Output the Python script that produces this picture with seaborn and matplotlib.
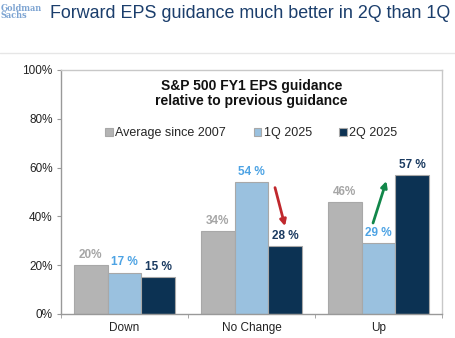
import matplotlib
matplotlib.use("Agg")
import matplotlib.pyplot as plt
import seaborn as sns
import pandas as pd
import numpy as np

categories = ["Down", "No Change", "Up"]
series = ["Average since 2007", "1Q 2025", "2Q 2025"]
avg_2007 = [20, 34, 46]
q1_2025 = [17, 54, 29]
q2_2025 = [15, 28, 57]
yticks = [0, 20, 40, 60, 80, 100]

colors = ["#B4B4B4", "#8EC3EA", "#00335F"]
label_colors = ["#A6A6A6", "#4DA3E4", "#1A3A60"]

rows = []
for name, vals in zip(series, [avg_2007, q1_2025, q2_2025]):
    for c, v in zip(categories, vals):
        rows.append({"Category": c, "Series": name, "Value": v})
df = pd.DataFrame(rows)

sns.set_style("white")
plt.rcParams["font.family"] = ["Liberation Sans", "DejaVu Sans"]

fig = plt.figure(figsize=(4.56, 3.38), dpi=100)
ax = fig.add_axes([61/456, 24/338, 381/456, 244/338])

sns.barplot(data=df, x="Category", y="Value", hue="Series", order=categories,
            hue_order=series, palette=colors, ax=ax, width=0.8,
            edgecolor="#A8A8A8", linewidth=0.8, legend=True)

ax.set_ylim(0, 100)
ax.set_xlim(-0.5, 2.5)
ax.set_yticks(yticks)
ax.set_yticklabels([f"{t}%" for t in yticks], fontsize=8.5, color="#222222")
ax.set_xticks([0, 1, 2])
ax.set_xticklabels(categories, fontsize=8.5, color="#222222")
ax.tick_params(axis="x", length=0, pad=6)
ax.tick_params(axis="y", length=3, color="#999999", pad=3, left=True)
ax.set_xticks([-0.5, 0.5, 1.5, 2.5], minor=True)
ax.tick_params(axis="x", which="minor", length=3, color="#999999", bottom=True)
ax.set_xlabel("")
ax.set_ylabel("")
for s in ["left", "bottom"]:
    ax.spines[s].set_color("#999999")
    ax.spines[s].set_linewidth(1.0)
for s in ["top", "right"]:
    ax.spines[s].set_color("#C8C8C8")
    ax.spines[s].set_linewidth(1.0)
    ax.spines[s].set_visible(True)

# bar labels
for i, cont in enumerate(ax.containers):
    if i == 0:
        labels = [f"{v}%" for v in avg_2007]
    elif i == 1:
        labels = [f"{v} %" for v in q1_2025]
    else:
        labels = [f"{v} %" for v in q2_2025]
    ax.bar_label(cont, labels=labels, padding=3, fontsize=8.5,
                 fontweight="bold", color=label_colors[i])

# legend
handles, labs = ax.get_legend_handles_labels()
ax.legend(handles, labs, loc="upper center", bbox_to_anchor=(0.5, 0.785),
          ncol=3, frameon=False, fontsize=9, handlelength=0.6, handleheight=0.6,
          handletextpad=0.2, columnspacing=2.2, borderaxespad=0)

# inner title
ax.text(0.5, 0.965, "S&P 500 FY1 EPS guidance\nrelative to previous guidance",
        transform=ax.transAxes, ha="center", va="top", fontsize=10,
        fontweight="bold", linespacing=1.15, color="#111111")

# arrows
ax.annotate("", xy=(1.264, 36.0), xytext=(1.185, 51.8),
            arrowprops=dict(arrowstyle="-|>", color="#C0282D", lw=2,
                            mutation_scale=9, shrinkA=0, shrinkB=0))
ax.annotate("", xy=(2.062, 54.5), xytext=(1.957, 37.3),
            arrowprops=dict(arrowstyle="-|>", color="#12874A", lw=2,
                            mutation_scale=9, shrinkA=0, shrinkB=0))

# header
title = fig.text(50/456, 1 - 14/338, "Forward EPS guidance much better in 2Q than 1Q",
                 fontsize=14, color="#1B3E6C", va="center", ha="left")
fig.canvas.draw()
w = title.get_window_extent(fig.canvas.get_renderer()).width
title.set_fontsize(14 * 402 / w)
fig.text(1/456, 1 - 12/338, "Goldman\nSachs", fontsize=6.6, color="#7DA4D2",
         family="DejaVu Serif", fontstretch="condensed", fontweight="bold",
         va="center", ha="left", linespacing=0.85)
fig.add_artist(plt.Line2D([0, 1], [1 - 53/338, 1 - 53/338], color="#E6E6E6",
                          lw=1, transform=fig.transFigure))

fig.savefig("out.png", dpi=100)
